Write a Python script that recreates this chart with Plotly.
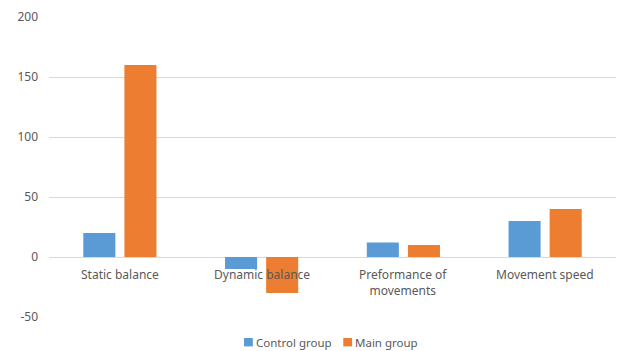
import plotly.graph_objects as go

categories = ["Static balance", "Dynamic balance", "Preformance of<br>movements", "Movement speed"]
control_group = [20, -10, 12, 30]
main_group = [160, -30, 10, 40]
y_ticks = [-50, 0, 50, 100, 150, 200]
y_tick_text = ["-50", "0", "50", "100", "150", "200"]
series_names = ["Control group", "Main group"]

BLUE = "#5B9BD5"
ORANGE = "#ED7D31"
TEXT = "#595959"
GRID = "#D9D9D9"
FONT = "Noto Sans"

fig = go.Figure()
fig.add_trace(go.Bar(x=categories, y=control_group, name=series_names[0],
                     marker=dict(color=BLUE, line=dict(width=0))))
fig.add_trace(go.Bar(x=categories, y=main_group, name=series_names[1],
                     marker=dict(color=ORANGE, line=dict(width=0))))

# category labels sit just under the zero line
for cat in categories:
    fig.add_annotation(x=cat, y=0, xref="x", yref="y", text=cat,
                       showarrow=False, yanchor="top", yshift=-7,
                       font=dict(family=FONT, size=12, color=TEXT))

# compact legend below the plot: small colour square followed by the series name
legend_items = [(series_names[0], BLUE, 0.344), (series_names[1], ORANGE, 0.519)]
legend_y = -0.084
for name, color, x0 in legend_items:
    fig.add_shape(type="rect", xref="paper", yref="paper",
                  x0=x0, x1=x0 + 0.0155, y0=legend_y - 0.014, y1=legend_y + 0.014,
                  fillcolor=color, line=dict(width=0))
    fig.add_annotation(x=x0 + 0.019, y=legend_y, xref="paper", yref="paper",
                       text=name, showarrow=False, xanchor="left", yanchor="middle",
                       borderpad=0,
                       font=dict(family=FONT, size=11.5, color=TEXT))

fig.update_layout(
    width=631, height=351,
    margin=dict(l=49, r=15, t=17, b=34, autoexpand=False),
    paper_bgcolor="white", plot_bgcolor="white",
    barmode="group", bargap=0.42, bargroupgap=0.22,
    font=dict(family=FONT, size=12, color=TEXT),
    showlegend=False,
    xaxis=dict(showticklabels=False, showgrid=False, zeroline=False, showline=False),
    yaxis=dict(range=[-50, 200], tickvals=y_ticks, ticktext=y_tick_text,
               showgrid=True, gridcolor=GRID, gridwidth=1,
               zeroline=True, zerolinecolor=GRID, zerolinewidth=1,
               showline=False, ticks="", ticklabelstandoff=10,
               tickfont=dict(family=FONT, size=12, color=TEXT)),
)

fig.write_html("out.html")
